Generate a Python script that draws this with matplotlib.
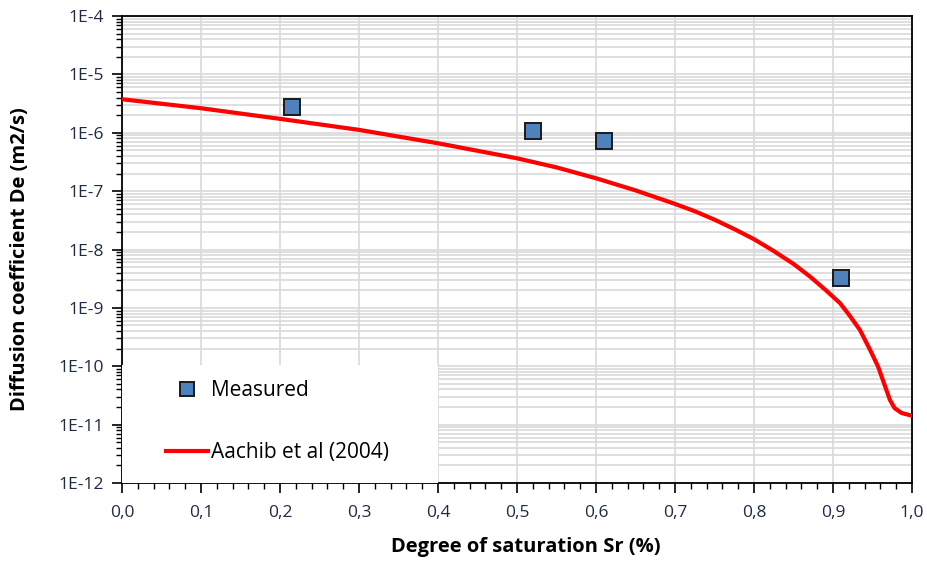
import numpy as np
import matplotlib.pyplot as plt
from matplotlib.ticker import FixedLocator, FuncFormatter, LogLocator, NullFormatter
from matplotlib.patches import Rectangle

# measured points
sr_meas = [0.215, 0.52, 0.61, 0.91]
de_meas = [2.8e-6, 1.07e-6, 7.2e-7, 3.3e-9]

# Aachib et al (2004) curve
sr_model = [0.0, 0.1, 0.2, 0.3, 0.4, 0.5, 0.55, 0.6, 0.65, 0.7, 0.726, 0.751,
            0.777, 0.8, 0.824, 0.85, 0.871, 0.892, 0.909, 0.921, 0.934, 0.947,
            0.957, 0.966, 0.972, 0.978, 0.987, 1.0]
de_model = [3.75e-6, 2.63e-6, 1.73e-6, 1.12e-6, 6.6e-7, 3.65e-7, 2.55e-7, 1.66e-7,
            1.03e-7, 6.04e-8, 4.47e-8, 3.2e-8, 2.17e-8, 1.5e-8, 9.6e-9, 5.66e-9,
            3.43e-9, 1.95e-9, 1.2e-9, 7.4e-10, 4.2e-10, 1.9e-10, 9.9e-11, 4.5e-11,
            2.66e-11, 1.91e-11, 1.58e-11, 1.42e-11]

plt.rcParams['font.family'] = ['Open Sans', 'DejaVu Sans']

fig = plt.figure(figsize=(9.27, 5.61), dpi=100)
ax = fig.add_axes([122 / 927, 78 / 561, 790 / 927, 467 / 561])

ax.set_yscale('log')
ax.set_xlim(0, 1.0)
ax.set_ylim(1e-12, 1e-4)

ax.plot(sr_model, de_model, color='#FF0000', lw=3, zorder=3, solid_joinstyle='round',
        label='Aachib et al (2004)')
ax.plot(sr_meas, de_meas, ls='none', marker='s', ms=12, mfc='#4F81BD', mec='#1A1A1A',
        mew=1.4, zorder=4, label='Measured')

# grid
ax.xaxis.set_major_locator(FixedLocator(np.arange(0, 1.01, 0.1)))
ax.xaxis.set_minor_locator(FixedLocator(np.arange(0, 1.001, 0.02)))
ax.yaxis.set_major_locator(LogLocator(base=10, numticks=20))
ax.yaxis.set_minor_locator(LogLocator(base=10, subs=np.arange(2, 10), numticks=100))
ax.yaxis.set_minor_formatter(NullFormatter())
ax.grid(True, which='major', axis='x', color='#D9D9D9', lw=1.2)
ax.grid(True, which='both', axis='y', color='#D9D9D9', lw=1.2)
ax.set_axisbelow(True)

ax.xaxis.set_major_formatter(FuncFormatter(lambda v, p: f"{v:.1f}".replace('.', ',')))
ax.yaxis.set_major_formatter(FuncFormatter(lambda v, p: f"1E{int(round(np.log10(v)))}"))

ax.tick_params(axis='both', which='major', direction='out', length=7, width=1.2,
               labelsize=12.5, colors='black', labelcolor='#1F2A44', pad=6)
ax.tick_params(axis='x', which='major', pad=9)
ax.tick_params(axis='both', which='minor', direction='out', length=4, width=1.0)
for s in ax.spines.values():
    s.set_linewidth(1.3)
    s.set_color('black')

ax.set_xlabel('Degree of saturation Sr (%)', fontsize=14.5, fontweight='bold')
ax.set_ylabel('Diffusion coefficient De (m2/s)', fontsize=14.5, fontweight='bold')
ax.xaxis.set_label_coords(0.511, -0.115)
ax.yaxis.set_label_coords(-0.116, 0.48)

# white legend area
ax.add_patch(Rectangle((0, 0), 0.4, 0.2527, transform=ax.transAxes, facecolor='white',
                       edgecolor='none', zorder=5))
handles, labels = ax.get_legend_handles_labels()
leg = ax.legend(handles[::-1], labels[::-1], loc='lower left', bbox_to_anchor=(0.032, 0.003),
                frameon=False, fontsize=15, labelspacing=1.95, handlelength=2.0,
                handletextpad=0.15, markerscale=0.85)
leg.set_zorder(6)

fig.savefig('out.png', dpi=100)
